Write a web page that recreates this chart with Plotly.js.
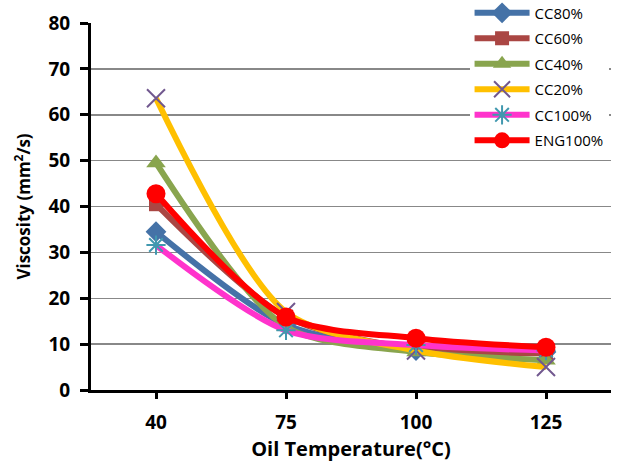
<!DOCTYPE html>
<html><head><meta charset="utf-8">
<script src="https://cdn.plot.ly/plotly-3.0.1.min.js"></script>
<style>html,body{margin:0;padding:0;background:#fff}#chart{width:620px;height:467px}</style>
</head><body><div id="chart"></div>
<script>
const temps = ['40', '75', '100', '125'];
const seriesNames = ['CC80%', 'CC60%', 'CC40%', 'CC20%', 'CC100%', 'ENG100%'];
const cc80 = [34.5, 14.2, 8.6, 8.3];
const cc60 = [40.5, 16.0, 9.0, 8.0];
const cc40 = [49.5, 13.8, 8.3, 6.5];
const cc20 = [63.6, 17.0, 8.6, 5.0];
const cc100 = [31.6, 13.0, 9.8, 8.6];
const eng100 = [42.8, 15.9, 11.3, 9.3];

const values = [cc80, cc60, cc40, cc20, cc100, eng100];
const lineColors = ['#4572A7', '#AA4643', '#89A54E', '#FFC000', '#FF33CC', '#FF0000'];
const markerColors = ['#4572A7', '#AA4643', '#89A54E', '#71588F', '#4198AF', '#FF0000'];
const symbols = ['diamond', 'square', 'triangle-up', 'x-thin-open', 'asterisk-open', 'circle'];
const sizes = [16, 14, 17, 18, 16, 19];

const traces = values.map((v, i) => {
  const open = symbols[i].endsWith('open');
  return {
    x: temps, y: v, name: seriesNames[i], type: 'scatter', mode: 'lines+markers',
    legendgroup: 'g' + i,
    line: {color: lineColors[i], width: 6, shape: 'spline', smoothing: 0.8},
    marker: {symbol: symbols[i], size: sizes[i], color: markerColors[i],
      line: {color: markerColors[i], width: open ? 2 : 0}}
  };
});

const FAM = '"Open Sans", "Liberation Sans", sans-serif';
const tickFont = {family: FAM, size: 19, color: '#000', weight: 700};
const layout = {
  width: 620, height: 467,
  margin: {l: 91, r: 9, t: 23, b: 77, autoexpand: false},
  paper_bgcolor: '#fff', plot_bgcolor: '#fff',
  font: {family: FAM, color: '#000'},
  xaxis: {
    type: 'category', range: [-0.5, 3.5],
    showline: true, linecolor: '#000', linewidth: 3,
    ticks: 'outside', ticklen: 6, tickwidth: 3, tickcolor: '#000',
    showgrid: false, zeroline: false,
    tickfont: tickFont, ticklabelstandoff: 7,
    title: {text: 'Oil Temperature(\u00B0C)', font: {family: FAM, size: 20, weight: 700, color: '#000'}, standoff: 8}
  },
  yaxis: {
    range: [0, 80], dtick: 10,
    showline: true, linecolor: '#000', linewidth: 3,
    ticks: 'outside', ticklen: 8, tickwidth: 3, tickcolor: '#000',
    showgrid: true, gridcolor: '#888', gridwidth: 1.5, zeroline: false,
    tickfont: tickFont, ticklabelstandoff: 6,
    title: {text: 'Viscosity (mm<sup>2</sup>/s)', font: {family: FAM, size: 17, weight: 700, color: '#000'}, standoff: 14}
  },
  legend: {
    x: 0.728, xanchor: 'left', y: 1.072, yanchor: 'top',
    bgcolor: '#fff', borderwidth: 0,
    font: {family: FAM, size: 15, color: '#000'},
    traceorder: 'grouped', tracegroupgap: 3, itemwidth: 55
  },
  showlegend: true
};
Plotly.newPlot('chart', traces, layout, {displayModeBar: false, staticPlot: true});
</script></body></html>
